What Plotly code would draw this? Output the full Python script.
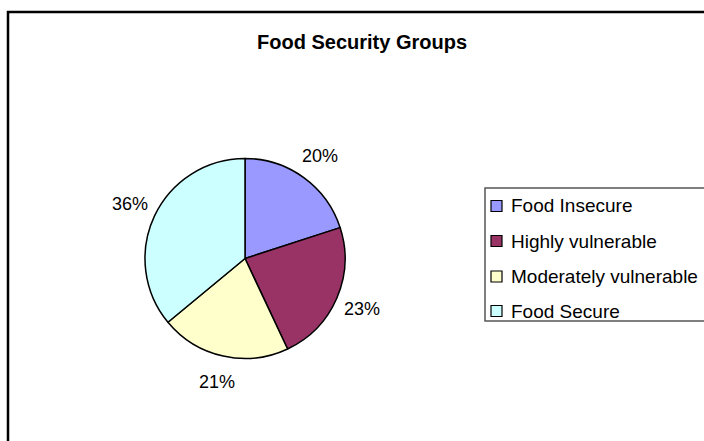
import math
import plotly.graph_objects as go

categories = ["Food Insecure", "Highly vulnerable", "Moderately vulnerable", "Food Secure"]
values = [20, 23, 21, 36]
colors = ["#9999FF", "#993366", "#FFFFCC", "#CCFFFF"]
title_text = "Food Security Groups"

W, H = 704, 441
cx, cy, R = 245, 258.5, 100  # pixel geometry of the pie
label_r = 127
FONT = "Liberation Sans, Arial, sans-serif"

fig = go.Figure()
fig.add_trace(go.Pie(
    labels=categories, values=values, sort=False, direction="clockwise", rotation=0,
    marker=dict(colors=colors, line=dict(color="black", width=1.5)),
    textinfo="none", hoverinfo="label+percent", showlegend=False,
    domain=dict(x=[(cx - R) / W, (cx + R) / W], y=[(H - cy - R) / H, (H - cy + R) / H]),
))

annotations = []
total = sum(values)
cum = 0
for v in values:
    mid = (cum + v / 2) / total * 2 * math.pi
    cum += v
    px = cx + label_r * math.sin(mid)
    py = cy - label_r * math.cos(mid)
    annotations.append(dict(
        x=px / W, y=1 - py / H, xref="paper", yref="paper", showarrow=False,
        text=f"{round(v / total * 100)}%", font=dict(family=FONT, size=18, color="black"),
        xanchor="center", yanchor="middle"))

# title
annotations.append(dict(
    x=361.5 / W, y=1 - 42 / H, xref="paper", yref="paper", showarrow=False,
    text=title_text, font=dict(family=FONT, size=20, color="black", weight="bold"),
    xanchor="center", yanchor="middle"))

shapes = []
# chart border (only left/top visible)
shapes.append(dict(type="rect", xref="paper", yref="paper",
                   x0=8 / W, x1=1.05, y0=-0.05, y1=1 - 12 / H,
                   line=dict(color="black", width=2.5), fillcolor="rgba(0,0,0,0)"))
# legend box
shapes.append(dict(type="rect", xref="paper", yref="paper",
                   x0=485 / W, x1=1.02, y0=1 - 321 / H, y1=1 - 188 / H,
                   line=dict(color="#555555", width=1.5), fillcolor="white"))
legend_y = [206, 241, 276.5, 311]
for name, col, ly in zip(categories, colors, legend_y):
    shapes.append(dict(type="rect", xref="paper", yref="paper",
                       x0=491 / W, x1=502 / W, y0=1 - (ly + 5.5) / H, y1=1 - (ly - 5.5) / H,
                       line=dict(color="black", width=1.2), fillcolor=col))
    annotations.append(dict(
        x=509 / W, y=1 - ly / H, xref="paper", yref="paper", showarrow=False,
        text=name, font=dict(family=FONT, size=19, color="black"),
        xanchor="left", yanchor="middle"))

fig.update_layout(
    width=W, height=H, margin=dict(l=0, r=0, t=0, b=0),
    paper_bgcolor="white", plot_bgcolor="white",
    annotations=annotations, shapes=shapes, showlegend=False,
)
fig.write_html("out.html", config={"displayModeBar": False},
               post_script="document.body.style.margin='0';document.body.style.overflow='hidden';")
